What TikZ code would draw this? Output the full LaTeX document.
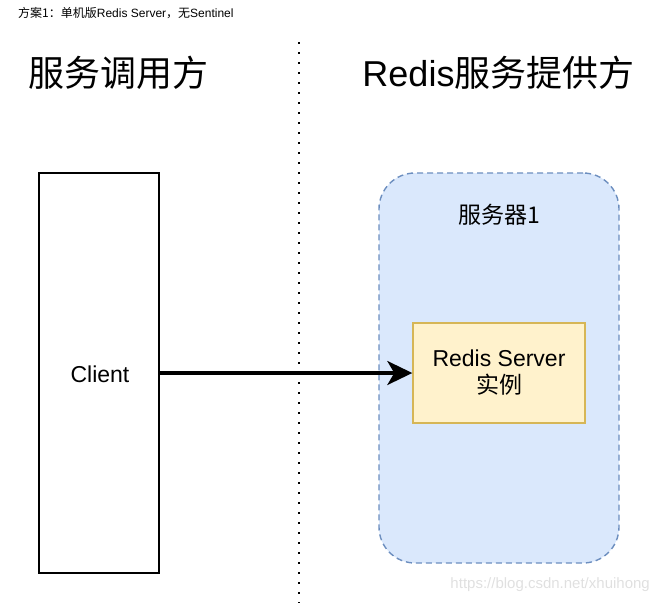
\documentclass[tikz,border=0pt]{standalone}
\usepackage{fontspec}
\setmainfont{Liberation Sans}
\newfontfamily\cjk{Noto Sans CJK SC}
\usepackage{tikz}
\usetikzlibrary{arrows,arrows.meta}
\definecolor{groupfill}{RGB}{218,232,252}
\definecolor{groupline}{RGB}{108,142,191}
\definecolor{boxfill}{RGB}{255,242,204}
\definecolor{boxline}{RGB}{214,182,86}
\tikzset{
  clientbox/.style={draw=black,line width=1.4pt,minimum width=120pt,minimum height=400pt},
  hostgroup/.style={draw=groupline,fill=groupfill,line width=1.4pt,dash pattern=on 6pt off 4pt,rounded corners=36pt,minimum width=240pt,minimum height=390pt},
  instbox/.style={draw=boxline,fill=boxfill,line width=1.4pt,minimum width=172pt,minimum height=100pt,align=center,font=\fontsize{23}{27}\selectfont},
  header/.style={font=\fontsize{36}{40}\selectfont},
  link/.style={-{Stealth[length=25pt,width=24pt,inset=7pt]},line width=3.2pt}
}
\begin{document}
\begin{tikzpicture}[x=1pt,y=1pt,yscale=-1,xscale=1]
\useasboundingbox (0,0) rectangle (661,603);

%caption
\node[anchor=west,inner sep=0pt,font=\fontsize{12}{14}\selectfont] (caption) at (18,13) {{\cjk 方案1：单机版}Redis Server{\cjk ，无}Sentinel};

%headers
\node[header,inner sep=0pt] (callerhead) at (118,73) {\cjk 服务调用方};
\node[header,inner sep=0pt] (providerhead) at (498.5,73) {Redis{\cjk 服务提供方}};

%divider
\coordinate (divtop) at (299,42);
\coordinate (divbot) at (299,603);
\draw[line width=2pt,dash pattern=on 2pt off 8pt] (divtop) -- (divbot);

%caller side
\node[clientbox] (client) at (99,373) {};
\node[font=\fontsize{23}{27}\selectfont] (clientlabel) at (100,374) {Client};

%provider side
\node[hostgroup] (host1) at (499,368) {};
\node[font=\fontsize{23}{27}\selectfont] (host1label) at (499,215) {\cjk 服务器1};
\node[instbox] (redis) at (499,373) {Redis Server\\{\cjk 实例}};

%connection
\draw[link] (client.east) -- (redis.west);

%watermark
\node[anchor=east,inner sep=0pt,text=black!12,font=\fontsize{15}{17}\selectfont] (mark) at (650,585) {https://blog.csdn.net/xhuihong};
\end{tikzpicture}
\end{document}
